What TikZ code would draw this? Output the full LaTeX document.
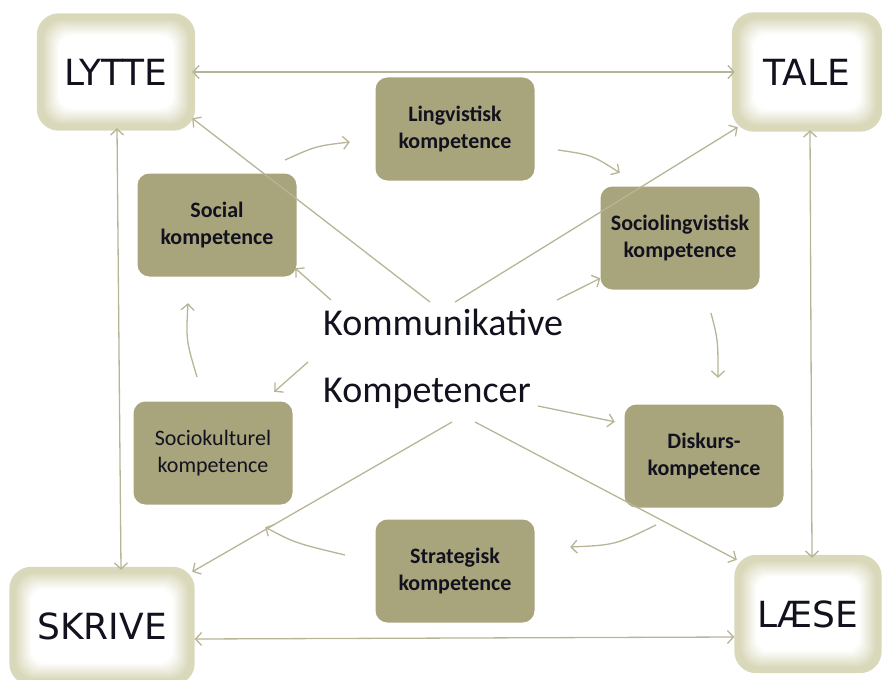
\documentclass[tikz,border=0pt]{standalone}
\usepackage{fontspec}
\setmainfont{Carlito}
\newfontfamily\cornerfont{DejaVu Sans}
\usetikzlibrary{arrows.meta,backgrounds}
\definecolor{olivefill}{RGB}{168,164,124}
\definecolor{glowc}{RGB}{218,216,186}
\definecolor{linec}{RGB}{184,180,150}
\definecolor{txt}{RGB}{18,18,30}
\begin{document}
\begin{tikzpicture}[x=1pt,y=-1pt,
  cornerbox/.style={font=\cornerfont\fontsize{36}{40}\selectfont, text=txt, inner sep=0pt},
  compbox/.style={fill=olivefill, rounded corners=12pt, text=txt, align=center,
    font=\fontsize{22}{27}\selectfont\bfseries, minimum width=159pt, minimum height=103pt, inner sep=0pt},
  bigtext/.style={font=\fontsize{38}{40}\selectfont, text=txt, inner sep=0pt, anchor=base west},
  tipv/.tip={Straight Barb[length=6pt,width=13pt]},
  link/.style={draw=linec, line width=1.3pt, -tipv},
  dlink/.style={draw=linec, line width=1.3pt, tipv-tipv}]
\useasboundingbox (0,0) rectangle (882,679);

% corner nodes
\node[cornerbox, minimum width=158pt, minimum height=117pt] (lytte) at (116,72) {LYTTE};
\node[cornerbox, minimum width=150pt, minimum height=119pt] (tale) at (807,72) {TALE};
\node[cornerbox, minimum width=185pt, minimum height=118pt] (skrive) at (102,626) {SKRIVE};
\node[cornerbox, minimum width=147pt, minimum height=118pt] (laese) at (808,614) {LÆSE};

\begin{scope}[on background layer]
\foreach \n in {lytte,tale,skrive,laese}{
  \foreach \i in {0,...,24}{
    \pgfmathsetmacro\p{\i<6 ? 100 : max(0,100-(\i-5)*6)}
    \pgfmathsetmacro\r{max(22-0.4*\i,10)}
    \fill[glowc!\p!white, rounded corners=\r pt]
      ([shift={(\i pt,-\i pt)}]\n.north west) rectangle ([shift={(-\i pt,\i pt)}]\n.south east);
  }
}
\end{scope}

% competence boxes
\node[compbox] (ling) at (455,129) {Lingvistisk\\kompetence};
\node[compbox] (social) at (217,225) {Social\\kompetence};
\node[compbox] (socling) at (680,238) {Sociolingvistisk\\kompetence};
\node[compbox, font=\fontsize{22}{27}\selectfont] (sockult) at (213,453) {Sociokulturel\\kompetence};
\node[compbox] (disk) at (704,456) {Diskurs-\\kompetence};
\node[compbox] (strat) at (455,571) {Strategisk\\kompetence};

% centre text
\node[bigtext] (komm) at (323,335) {Kommunikative};
\node[bigtext] (komp) at (323,402) {Kompetencer};

% outer frame arrows
\draw[dlink] ([xshift=-3pt]lytte.east) -- ([xshift=3pt]tale.west);
\draw[dlink] ([yshift=-13pt]skrive.east) -- ([yshift=-23pt]laese.west);
\draw[dlink] ([shift={(1pt,2.5pt)}]lytte.south) -- ([shift={(19pt,-3pt)}]skrive.north);
\draw[dlink] ([shift={(3pt,1.5pt)}]tale.south) -- ([shift={(4pt,-3pt)}]laese.north);

% diagonals from centre
\coordinate (c1) at (430,302);
\coordinate (c2) at (455,302);
\coordinate (c3) at (452,422);
\coordinate (c4) at (475,422);
\draw[link] (c1) -- ([shift={(-3pt,12.5pt)}]lytte.south east);
\draw[link] (c2) -- ([shift={(6pt,4.5pt)}]tale.south west);
\draw[link] (c3) -- ([shift={(-2.5pt,-5pt)}]skrive.north east);
\draw[link] (c4) -- ([shift={(2.5pt,-5pt)}]laese.north west);

% short arrows from centre text
\coordinate (s1) at (331,300);
\coordinate (s2) at (557,300);
\coordinate (s3) at (308,362);
\coordinate (s4) at (538,406);
\draw[link] (s1) -- ([shift={(-1.5pt,8.5pt)}]social.south east);
\draw[link] (s2) -- ([shift={(0pt,11.5pt)}]socling.south west);
\draw[link] (s3) -- ([shift={(-18.5pt,9.5pt)}]sockult.north east);
\draw[link] (s4) -- ([shift={(-9.5pt,-17.5pt)}]disk.north west);

% cycle arrows
\coordinate (a1) at (285,160);
\coordinate (a2) at (558,150);
\coordinate (a3) at (711,313);
\coordinate (a4) at (656,525);
\coordinate (a5) at (345,555);
\coordinate (a6) at (197,377);
\draw[link] (a1) .. controls (316,146) .. ([shift={(-25.5pt,-13pt)}]ling.west);
\draw[link] (a2) .. controls (592,155) .. ([shift={(19.5pt,13.5pt)}]socling.north west);
\draw[link] (a3) .. controls (718,340) .. ([shift={(14pt,26.5pt)}]disk.north);
\draw[link] (a4) .. controls (615,545) .. ([shift={(35.5pt,24pt)}]strat.east);
\draw[link] (a5) .. controls (295,543) .. ([shift={(-27.5pt,-22.5pt)}]sockult.south east);
\draw[link] (a6) .. controls (186,340) .. ([shift={(-29pt,-26.5pt)}]social.south);
\end{tikzpicture}
\end{document}
